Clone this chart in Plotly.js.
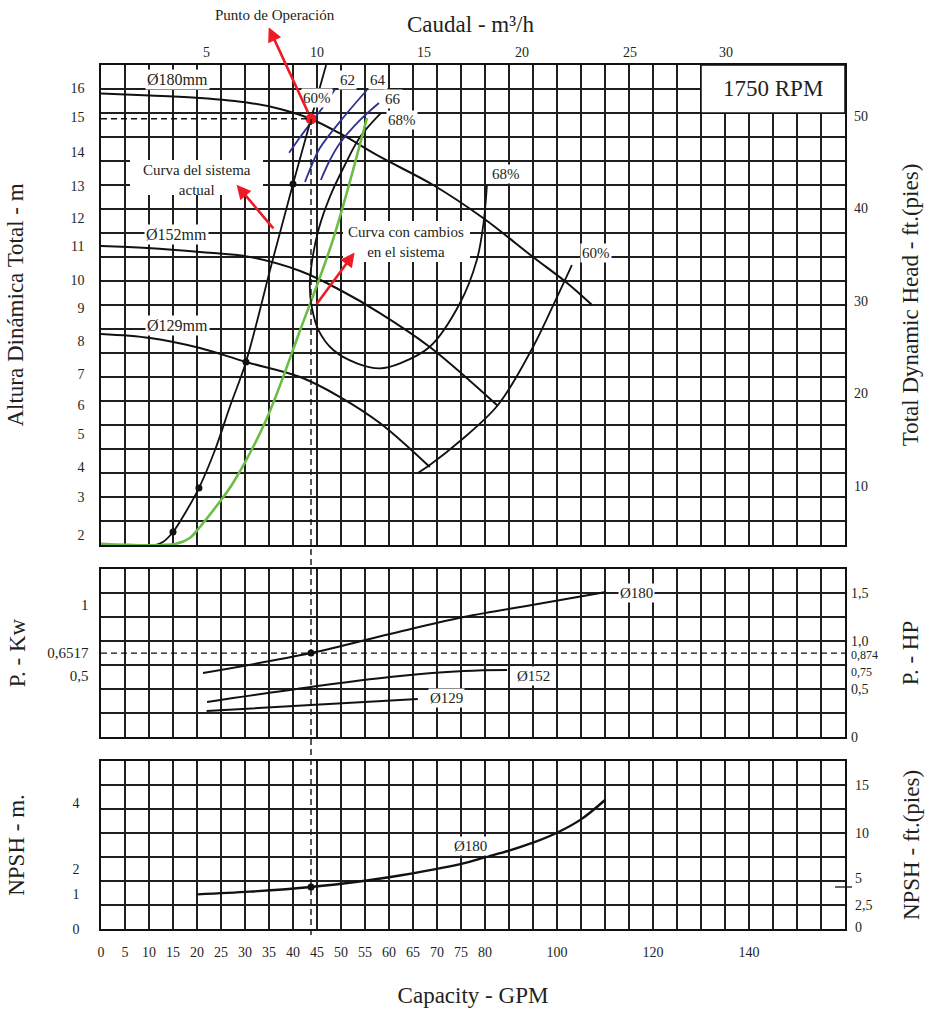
<!DOCTYPE html>
<html>
<head>
<meta charset="utf-8">
<script src="https://cdn.plot.ly/plotly-3.0.1.min.js"></script>
<style>html,body{margin:0;padding:0;background:#fff}#chart{width:928px;height:1009px}</style>
</head>
<body>
<div id="chart"></div>
<script>
// ---------------- DATA (x: GPM on the chart's capacity grid) ----------------
// Head curves, y in ft (Total Dynamic Head)
const q180 = [0, 10.2, 20.6, 31.0, 37.3, 43.75, 49.8, 58.1, 69.2, 79.6, 90.0, 97.1, 102.3];
const h180 = [52.43, 52.22, 51.95, 51.41, 50.76, 49.68, 48.11, 45.60, 42.54, 38.97, 34.76, 31.95, 29.57];
const q152 = [0, 9.6, 20.6, 31.0, 41.5, 49.8, 58.1, 68.5, 82.7];
const h152 = [35.95, 35.73, 35.30, 34.76, 33.24, 31.19, 28.70, 25.03, 18.65];
const q129 = [0, 10.2, 20.6, 30.2, 41.5, 49.8, 58.1, 68.5];
const h129 = [26.43, 26.0, 24.92, 23.41, 21.78, 19.62, 16.81, 12.05];

// System curves
const qSys = [0, 11.25, 12.9, 15.0, 17.9, 20.4, 23.75, 26.9, 30.2, 35.6, 40.0, 43.75, 46.9];
const hSys = [3.62, 3.62, 3.95, 5.03, 7.41, 9.78, 13.89, 18.65, 23.41, 34.11, 42.65, 49.68, 55.51];
const qSysPts = [15.0, 20.4, 30.2, 40.0];
const hSysPts = [5.03, 9.78, 23.41, 42.65];
const qNew = [0, 15.6, 18.5, 20.6, 23.75, 27.5, 34.4, 41.5, 48.3, 55.4];
const hNew = [3.75, 3.75, 4.38, 5.57, 7.62, 10.32, 17.14, 26.86, 36.59, 49.78];

// Efficiency curves
const qEff68 = [58.3, 54.0, 50.8, 47.7, 45.3, 43.9, 43.5, 43.9, 45.3, 48.4, 53.3, 58.1, 62.3, 68.5, 74.8, 78.3, 79.7, 80.4];
const hEff68 = [50.32, 47.76, 44.70, 41.28, 37.68, 34.08, 31.55, 29.38, 26.86, 24.70, 23.26, 22.72, 23.26, 25.05, 29.78, 34.43, 38.43, 42.54];
const qEff60 = [66.0, 68.5, 74.8, 82.7, 90.0, 95.0, 98.1];
const hEff60 = [11.41, 12.27, 14.86, 18.76, 25.03, 30.43, 33.89];
const qEff62 = [39.2, 41.5, 43.75, 46.3, 48.75];
const hEff62 = [46.03, 47.73, 49.28, 51.01, 52.89];
const qEff64 = [42.5, 43.75, 45.6, 50.4, 55.4];
const hEff64 = [42.86, 44.49, 46.54, 49.78, 52.81];
const qEff66 = [45.8, 47.7, 49.8, 54.0, 57.9];
const hEff66 = [43.08, 45.24, 47.08, 49.57, 51.41];

// Power curves (HP)
const qP180 = [21.25, 43.75, 60.2, 75.6, 90.4, 105.2];
const p180 = [0.667, 0.874, 1.073, 1.25, 1.38, 1.51];
const qP152 = [22.1, 43.75, 60.2, 75.6, 84.6];
const p152 = [0.365, 0.521, 0.625, 0.6875, 0.698];
const qP129 = [22.0, 43.75, 66.0];
const p129 = [0.271, 0.333, 0.396];

// NPSH (ft)
const qN = [20.1, 31.0, 43.75, 55.0, 60.0, 75.5, 80.0, 85.0, 90.0, 95.0, 100.0, 105.0];
const nN = [3.61, 3.89, 4.375, 5.03, 5.39, 6.84, 7.47, 8.16, 8.99, 10.03, 11.42, 13.44];

// Operating point
const opQ = 43.75, opHead = 49.7, opPower = 0.874, opNPSH = 4.375;

// Tick labels
const gpmTickVals = [0,5,10,15,20,25,30,35,40,45,50,55,60,65,70,75,80,95,115,135];
const gpmTickText = ['0','5','10','15','20','25','30','35','40','45','50','55','60','65','70','75','80','100','120','140'];
const m3hTickVals = [22.0, 44.9, 67.3, 87.7, 110.2, 130.2];
const m3hTickText = ['5','10','15','20','25','30'];
const headMTickVals = [53.03, 49.93, 46.11, 42.43, 38.97, 35.95, 32.27, 29.24, 25.71, 22.11, 18.76, 15.62, 12.05, 8.81, 4.70];
const headMTickText = ['16','15','14','13','12','11','10','9','8','7','6','5','4','3','2'];
const headFtTickVals = [10, 20, 30, 40, 50];
const headFtTickText = ['10','20','30','40','50'];
const kwTickVals = [1.375, 0.874, 0.635];
const kwTickText = ['1','0,6517','0,5'];
const hpTickVals = [1.5, 1.0, 0.86, 0.69, 0.5, 0];
const hpTickText = ['1,5','1,0','<span style="font-size:12px">0,874</span>','<span style="font-size:12px">0,75</span>','0,5','0'];
const npshMTickVals = [13.16, 6.2, 3.65, 0];
const npshMTickText = ['4','2','1','0'];
const npshFtTickVals = [15, 10, 5.3, 2.5, 0.2];
const npshFtTickText = ['15','10','5','2,5','0'];

// ---------------- STYLE ----------------
const F = '"Liberation Serif", "DejaVu Serif", serif';
const TXT = '#231f20';
const GRID = '#1f1f1f';
const BLUE = '#2e3192';
const GREEN = '#6cbd45';
const RED = '#ed1c24';

const headRange = [3.622, 55.514];
const headCell = (headRange[1] - headRange[0]) / 20;
const dHead = [0.44444, 1], dPow = [0.22222, 0.41667], dNpsh = [0, 0.19444];

function tf(size) { return {family: F, size: size || 14, color: TXT}; }

function xAxis(extra) {
  return Object.assign({
    range: [0, 155], tickmode: 'array', tickvals: gpmTickVals, ticktext: gpmTickText,
    showgrid: true, gridcolor: GRID, gridwidth: 1.3,
    minor: {tickmode: 'linear', tick0: 0, dtick: 5, showgrid: true, gridcolor: GRID, gridwidth: 1.3, ticks: ''},
    showline: true, mirror: true, linecolor: '#111', linewidth: 1.6,
    zeroline: false, ticks: '', automargin: false, fixedrange: true, tickfont: tf(14)
  }, extra);
}
function yAxis(range, tick0, dtick, domain, extra) {
  return Object.assign({
    range: range, domain: domain, tickmode: 'array', showgrid: false,
    minor: {tickmode: 'linear', tick0: tick0, dtick: dtick, showgrid: true, gridcolor: GRID, gridwidth: 1.3, ticks: ''},
    showline: true, mirror: true, linecolor: '#111', linewidth: 1.6,
    zeroline: false, ticks: '', automargin: false, fixedrange: true, tickfont: tf(14)
  }, extra);
}
function overlayY(over, anchor, range, vals, text, title, standoff, tls) {
  return {
    visible: true, overlaying: over, anchor: anchor, side: 'right', range: range,
    tickmode: 'array', tickvals: vals, ticktext: text, showgrid: false, zeroline: false,
    showline: false, ticks: '', ticklabelstandoff: tls, automargin: false, fixedrange: true,
    tickfont: tf(14), title: {text: title, font: tf(23), standoff: standoff}
  };
}

function line(x, y, xa, ya, color, width) {
  return {type: 'scatter', mode: 'lines', x: x, y: y, xaxis: xa, yaxis: ya,
    line: {color: color, width: width, shape: 'spline', smoothing: 1},
    hoverinfo: 'skip', showlegend: false};
}
function dots(x, y, xa, ya, color, size) {
  return {type: 'scatter', mode: 'markers', x: x, y: y, xaxis: xa, yaxis: ya,
    marker: {color: color, size: size}, hoverinfo: 'skip', showlegend: false};
}
// carrier traces so the secondary (label-only) axes get drawn
function carrier(xa, ya) {
  return {type: 'scatter', mode: 'markers', x: [null], y: [null], xaxis: xa, yaxis: ya,
    marker: {opacity: 0}, hoverinfo: 'skip', showlegend: false};
}

const traces = [
  line(q180, h180, 'x3', 'y3', '#111', 2),
  line(q152, h152, 'x3', 'y3', '#111', 2),
  line(q129, h129, 'x3', 'y3', '#111', 2),
  line(qEff60, hEff60, 'x3', 'y3', '#111', 1.8),
  line(qEff68, hEff68, 'x3', 'y3', '#111', 1.8),
  line(qEff62, hEff62, 'x3', 'y3', BLUE, 1.8),
  line(qEff64, hEff64, 'x3', 'y3', BLUE, 1.8),
  line(qEff66, hEff66, 'x3', 'y3', BLUE, 1.8),
  line(qSys, hSys, 'x3', 'y3', '#111', 1.8),
  line(qNew, hNew, 'x3', 'y3', GREEN, 2.6),
  dots(qSysPts, hSysPts, 'x3', 'y3', '#111', 7),
  dots([opQ], [opHead], 'x3', 'y3', RED, 11),
  line(qP180, p180, 'x2', 'y2', '#111', 2),
  line(qP152, p152, 'x2', 'y2', '#111', 2),
  line(qP129, p129, 'x2', 'y2', '#111', 2),
  dots([opQ], [opPower], 'x2', 'y2', '#111', 7),
  line(qN, nN, 'x', 'y', '#111', 2.4),
  dots([opQ], [opNPSH], 'x', 'y', '#111', 7),
  carrier('x3', 'y6'),
  carrier('x2', 'y5'),
  carrier('x', 'y4')
];

function paperY(v, range, domain) {
  return domain[0] + (v - range[0]) / (range[1] - range[0]) * (domain[1] - domain[0]);
}

const dash = {color: '#111', width: 1.4, dash: '6px,4px'};
const shapes = [
  {type: 'rect', xref: 'x3', yref: 'y3', x0: 125, x1: 155, y0: headRange[1] - 2 * headCell, y1: headRange[1],
   fillcolor: '#fff', line: {color: '#111', width: 1.5}},
  {type: 'rect', xref: 'x3', yref: 'y3', x0: 6.04, x1: 33.75, y0: 41.46, y1: 45.24, fillcolor: '#fff', line: {width: 0}},
  {type: 'rect', xref: 'x3', yref: 'y3', x0: 50.42, x1: 76.88, y0: 34.22, y1: 38.65, fillcolor: '#fff', line: {width: 0}},
  {type: 'line', xref: 'x3', yref: 'y3', x0: 0, x1: opQ, y0: opHead, y1: opHead, line: dash},
  {type: 'line', xref: 'x2', yref: 'y2', x0: 0, x1: 155, y0: opPower, y1: opPower, line: dash},
  {type: 'line', xref: 'x', yref: 'paper', x0: opQ, x1: opQ, y0: -0.007, y1: paperY(opHead, headRange, dHead), line: dash},
  {type: 'line', xref: 'paper', yref: 'y', x0: 0.9866, x1: 1.0094, y0: opNPSH, y1: opNPSH, line: {color: '#111', width: 1.3}}
];

function lbl(xa, ya, x, y, text, size, bg) {
  return {xref: xa, yref: ya, x: x, y: y, text: text, showarrow: false, xanchor: 'center', yanchor: 'middle',
    font: tf(size || 15), bgcolor: bg === false ? 'rgba(0,0,0,0)' : '#fff', borderpad: 1};
}
function arrow(x, y, ax, ay) {
  return {xref: 'x3', yref: 'y3', x: x, y: y, ax: ax, ay: ay, text: '', showarrow: true,
    arrowside: 'start', startarrowhead: 2, startarrowsize: 1.1, arrowwidth: 2.6, arrowcolor: RED, standoff: 0};
}

// top (m³/h) scale labels, placed along the capacity axis just above the head panel
const topScale = m3hTickVals.map((v, i) => lbl('x3', 'paper', v, 1.0139, m3hTickText[i], 14, false));

const annotations = [
  lbl('x3', 'y3', 15.94, 54.0, 'Ø180mm', 16),
  lbl('x3', 'y3', 15.77, 37.14, 'Ø152mm', 16),
  lbl('x3', 'y3', 16.04, 27.3, 'Ø129mm', 16),
  lbl('x3', 'y3', 45.0, 52.0, '60%', 15),
  lbl('x3', 'y3', 51.4, 53.9, '62', 15),
  lbl('x3', 'y3', 57.7, 53.9, '64', 15),
  lbl('x3', 'y3', 60.8, 51.8, '66', 15),
  lbl('x3', 'y3', 62.7, 49.57, '68%', 15),
  lbl('x3', 'y3', 84.4, 43.73, '68%', 15),
  lbl('x3', 'y3', 103.1, 35.22, '60%', 15),
  lbl('x3', 'y3', 140, 52.92, '1750 RPM', 23, false),
  lbl('x3', 'y3', 19.9, 43.03, 'Curva del sistema<br>actual', 15, false),
  lbl('x3', 'y3', 63.54, 36.38, 'Curva con cambios<br>en el sistema', 15, false),
  lbl('x2', 'y2', 111.5, 1.505, 'Ø180', 15),
  lbl('x2', 'y2', 90.2, 0.635, 'Ø152', 15),
  lbl('x2', 'y2', 71.9, 0.406, 'Ø129', 15),
  lbl('x', 'y', 76.9, 8.68, 'Ø180', 15),
  lbl('paper', 'paper', 0.2339, 1.0579, 'Punto de Operación', 15, false),
  lbl('paper', 'paper', 0.496, 1.0463, 'Caudal - m³/h', 23, false),
  Object.assign(arrow(opQ, opHead, -43, -93), {standoff: 7}),
  arrow(35.9, 37.86, -38, -45),
  arrow(44.94, 29.68, 39, -53)
].concat(topScale);

const layout = {
  width: 928, height: 1009,
  margin: {l: 101, r: 83, t: 65, b: 80, pad: 0},
  paper_bgcolor: '#fff', plot_bgcolor: '#fff',
  showlegend: false, hovermode: false,
  font: {family: F, color: TXT, size: 14},
  xaxis: xAxis({anchor: 'y', ticklabelstandoff: 10,
    title: {text: 'Capacity - GPM', font: tf(23), standoff: 27}}),
  xaxis2: xAxis({anchor: 'y2', showticklabels: false}),
  xaxis3: xAxis({anchor: 'y3', showticklabels: false}),
  yaxis: yAxis([0, 17.5], 0, 2.5, dNpsh, {anchor: 'x', tickvals: npshMTickVals, ticktext: npshMTickText,
    ticklabelstandoff: 17, title: {text: 'NPSH - m.', font: tf(23), standoff: 41}}),
  yaxis2: yAxis([0, 1.75], 0, 0.25, dPow, {anchor: 'x2', tickvals: kwTickVals, ticktext: kwTickText,
    tickfont: tf(15), ticklabelstandoff: 8, title: {text: 'P. - Kw', font: tf(23), standoff: 15}}),
  yaxis3: yAxis(headRange, headRange[0], headCell, dHead, {anchor: 'x3', tickvals: headMTickVals, ticktext: headMTickText,
    ticklabelstandoff: 12, title: {text: 'Altura Dinámica Total - m', font: tf(23), standoff: 40}}),
  yaxis4: overlayY('y', 'x', [0, 17.5], npshFtTickVals, npshFtTickText, 'NPSH - ft.(pies)', 31, 9),
  yaxis5: overlayY('y2', 'x2', [0, 1.75], hpTickVals, hpTickText, 'P. - HP', 24, 5),
  yaxis6: overlayY('y3', 'x3', headRange, headFtTickVals, headFtTickText, 'Total Dynamic Head - ft.(pies)', 34, 8),
  shapes: shapes,
  annotations: annotations
};

Plotly.newPlot('chart', traces, layout, {displayModeBar: false, staticPlot: true});
</script>
</body>
</html>
